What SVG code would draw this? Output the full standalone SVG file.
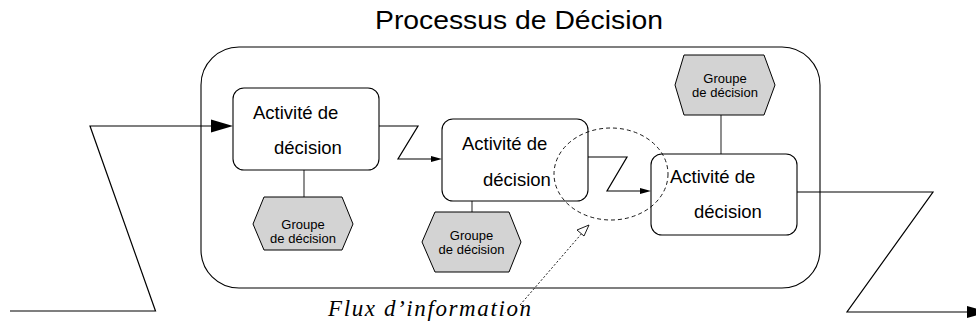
<svg xmlns="http://www.w3.org/2000/svg" width="976" height="327" viewBox="0 0 976 327">
<style>
.box{fill:#fff;stroke:#000;stroke-width:1.1}
.hex{fill:#d3d3d3;stroke:#000;stroke-width:1}
.ln{fill:none;stroke:#000;stroke-width:1.2}
.tie{fill:none;stroke:#444;stroke-width:1.2}
.at{font-family:"Liberation Sans",Arial,sans-serif;font-size:18.5px;fill:#000}
.ht{font-family:"Liberation Sans",Arial,sans-serif;font-size:13px;fill:#000;text-anchor:middle}
</style>
<text x="519" y="29" font-family="Liberation Sans, Arial, sans-serif" font-size="26" text-anchor="middle" textLength="288" lengthAdjust="spacingAndGlyphs">Processus de Décision</text>
<g id="processus">
<rect x="201" y="47" width="619" height="241" rx="38" ry="38" class="box"/>
</g>
<g id="connectors">
<polyline class="ln" points="10,311 155.5,311 90,126 213,126"/>
<polygon points="233,126 211,119.5 211,132.5" fill="#000"/>
<polyline class="ln" points="379,126 418,126 398,159 432,159"/>
<polygon points="442,159 431,156 431,162" fill="#000"/>
<polyline class="ln" points="583,157 627,157 607,191 642,191"/>
<polygon points="651,191 640,188 640,194" fill="#000"/>
<polyline class="ln" points="797,192 933,192 847,312 968,312"/>
<polygon points="988,312 967,306 967,318" fill="#000"/>
<line class="tie" x1="304" y1="170" x2="304" y2="197"/>
<line class="tie" x1="472" y1="201" x2="472" y2="212"/>
<line class="tie" x1="721" y1="115" x2="721" y2="154"/>
</g>
<g id="activite1">
<rect x="233" y="88" width="146" height="82" rx="11" class="box"/>
<text class="at" x="253" y="119">Activité de</text>
<text class="at" x="274" y="154">décision</text>
</g>
<g id="activite2">
<rect x="442" y="119" width="146" height="82" rx="11" class="box"/>
<text class="at" x="462" y="150">Activité de</text>
<text class="at" x="483" y="186">décision</text>
</g>
<g id="activite3">
<rect x="651" y="154" width="146" height="81" rx="11" class="box"/>
<text class="at" x="670" y="183">Activité de</text>
<text class="at" x="694" y="218">décision</text>
</g>
<g id="groupe1">
<polygon class="hex" points="253,224 264,197 342,197 353,224 342,250 264,250"/>
<text class="ht" x="303" y="229">Groupe</text>
<text class="ht" x="303" y="243">de décision</text>
</g>
<g id="groupe2">
<polygon class="hex" points="422,242 435,212 509,212 521,242 509,272 435,272"/>
<text class="ht" x="471.5" y="240">Groupe</text>
<text class="ht" x="471.5" y="254">de décision</text>
</g>
<g id="groupe3">
<polygon class="hex" points="675,85 684,55 764,55 775,85 764,115 684,115"/>
<text class="ht" x="725" y="83">Groupe</text>
<text class="ht" x="725" y="97">de décision</text>
</g>
<g id="flux">
<ellipse cx="611" cy="174" rx="57" ry="46" fill="none" stroke="#000" stroke-width="0.9" stroke-dasharray="4,3"/>
<line x1="520" y1="305" x2="583" y2="232" stroke="#000" stroke-width="0.9" stroke-dasharray="2,2"/>
<polygon points="589,225 577,230 584,236" fill="#fff" stroke="#000" stroke-width="0.9"/>
<text x="328" y="316" font-family="Liberation Serif, Times New Roman, serif" font-style="italic" font-size="23" textLength="203" lengthAdjust="spacing">Flux d’information</text>
</g>
</svg>
